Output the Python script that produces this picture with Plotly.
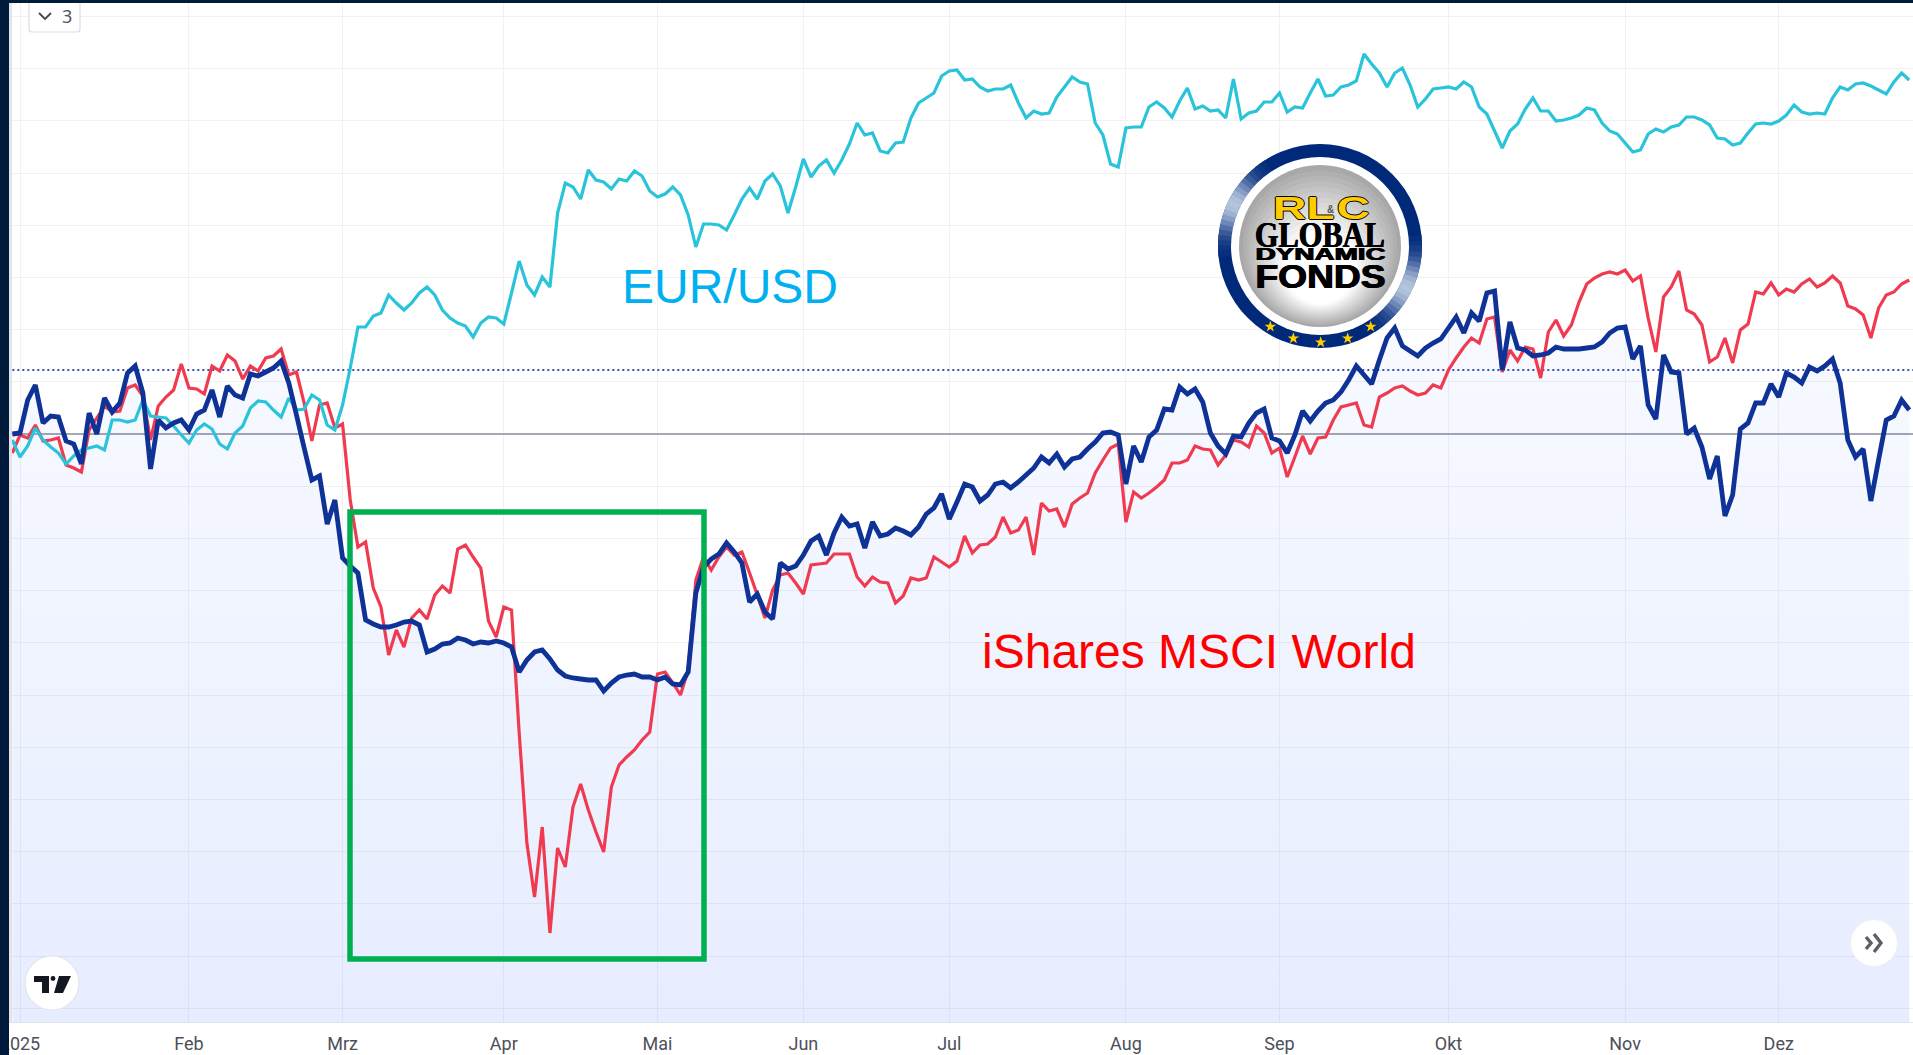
import math
import plotly.graph_objects as go

# Chart values: index level per trading bar, relative to the start level (0). First bar is index -1.
month_bars = [0, 22, 42, 63, 83, 102, 121, 144, 164, 186, 209, 229]
month_labels = ["2025", "Feb", "Mrz", "Apr", "Mai", "Jun", "Jul", "Aug", "Sep", "Okt", "Nov", "Dez"]

fund_values = [
    0, 1, 34, 49, 11, 18, 17, -7, -10, -30, 21, 0, 36, 22, 31, 61, 68, 41, -35, 14, 6, 11, 14, 4, 20, 24, 44, 17, 48, 39,
    36, 60, 58, 62, 66, 73, 51, 19, -14, -46, -42, -90, -66, -124, -132, -139,
    -186, -190, -193, -193, -191, -188, -187, -191, -218, -215, -210, -209, -204, -206, -210, -208, -209, -207, -209, -213,
    -238, -226, -218, -216, -225, -236, -242, -244, -245, -246, -246, -257, -249, -243, -241, -240, -243, -243, -246, -243,
    -250, -251, -238, -159, -133,
    -125, -120, -109, -118, -129, -168, -160, -178, -185, -129, -135, -132, -121, -107, -102, -121, -99, -83, -92, -90,
    -114, -88, -102, -100, -94, -97, -101, -93, -80, -74, -60, -85, -68, -50, -53, -67, -61, -50, -48, -54, -48, -41, -34,
    -23, -29, -20, -33, -25, -23, -15, -8, 1, 2, -1, -50, -12, -28, -3, 4, 25,
    24, 47, 40, 45, 32, 1, -12, -20, -2, -3, 11, 21, 25, -4, -7, -19, -1, 23, 13, 23, 31, 34, 42, 54, 68, 59, 50, 74, 96,
    106, 88, 83, 78, 86, 91, 95, 106, 117, 101, 121, 113, 141, 143,
    64, 112, 86, 84, 78, 79, 81, 87, 85, 85, 85, 86, 87, 92, 101, 106, 107, 75, 88, 29, 15, 79, 62, 61, 0, 6, -13, -45, -22,
    -82, -61, 5, 11, 31, 31, 50, 37, 61, 57, 51, 67, 63, 68, 75, 51, -6, -23, -15, -67, -26, 14, 18, 34, 24,
]

msci_values = [
    -19, -1, -4, 9, -7, -6, -4, -31, -34, -38, 4, 16, 28, 22, 23, 46, 49, 38, -6, 28, 37, 44, 70, 46, 45, 40, 68, 63, 79, 73,
    55, 68, 63, 76, 78, 85, 59, 62, 31, -7, 29, 31, 6, 10, -66, -113, -108,
    -154, -173, -221, -196, -213, -184, -176, -185, -161, -152, -159, -115, -111, -123, -134, -187, -203, -173, -176, -299,
    -409, -463, -393, -499, -414, -433, -373, -350, -376, -398, -418, -353, -331, -323, -316, -306, -298, -240, -238, -249,
    -261, -236, -146, -123,
    -136, -123, -113, -121, -118, -139, -161, -184, -156, -141, -139, -149, -160, -131, -130, -129, -120, -120, -120, -143,
    -152, -143, -148, -149, -169, -162, -144, -146, -144, -123, -128, -133, -127, -102, -119, -111, -110, -103, -83, -99,
    -96, -83, -121, -69, -77, -75, -93, -70, -64, -59, -39, -26, -14, -10, -88, -58, -64, -59, -53, -46,
    -29, -29, -26, -12, -15, -16, -31, -21, -6, -8, -13, 8, 1, -19, -14, -43, -23, -2, -20, -4, -3, 14, 27, 29, 31, 9, 7, 37,
    41, 46, 48, 43, 39, 41, 49, 46, 64, 76, 87, 96, 91, 115, 117,
    62, 84, 73, 87, 85, 56, 102, 114, 98, 109, 132, 150, 156, 160, 162, 160, 164, 153, 158, 116, 82, 137, 147, 163, 124, 120,
    109, 72, 77, 96, 71, 104, 110, 142, 140, 151, 139, 145, 142, 150, 155, 147, 151, 158, 151, 128, 125, 119, 96, 126, 139,
    142, 150, 154,
]

eurusd_values = [
    -6, -23, -12, 6, -6, -13, -19, -30, -22, -16, -14, -12, -16, 14, 14, 12, 14, 34, 18, 17, 16, 8, -1, -9, 4, 10, 5, -10, -15,
    1, 8, 26, 33, 32, 24, 17, 36, 24, 25, 39, 34, 9, 4, 29, 66,
    107, 107, 118, 121, 139, 131, 124, 131, 141, 147, 139, 124, 116, 111, 108, 97, 111, 117, 116, 110, 141, 173, 149, 139, 157,
    147, 221, 251, 247, 235, 264, 254, 252, 245, 255, 253, 263, 258, 243, 237, 240, 247, 239, 219, 187,
    210, 210, 209, 204, 219, 235, 246, 235, 253, 260, 248, 221, 247, 275, 257, 268, 274, 261, 274, 290, 311, 299, 301, 283, 281,
    291, 292, 316, 331, 336, 341, 358, 363, 364, 354, 355, 347, 343, 345, 345, 349, 331, 316, 323, 320, 321, 337, 347, 357, 352,
    350, 311, 299, 270, 267, 306, 307, 307, 327, 332, 326, 317, 333, 346, 325, 328, 323, 324, 316, 355, 315, 321, 323, 332, 332,
    341, 322, 327, 326, 341, 355,
    338, 339, 347, 349, 353, 380, 370, 361, 347, 361, 366, 349, 327, 335, 345, 346, 347, 345, 352, 347, 327, 320, 303, 286, 303,
    310, 325, 336, 323, 323, 313, 314, 316, 319, 326, 324, 311, 303, 300, 291, 282, 284, 300, 305, 302, 307, 309, 317, 317, 314,
    309, 296, 295, 289, 291, 301, 310, 311, 310, 313, 319, 329, 322, 320, 321, 320, 336, 347, 344, 350, 351, 348, 344, 340, 352,
    361, 354,
]

base_level = 0
previous_close = 64
grid_step = 52.2
y_bottom, y_top = -588, 434
x_left, x_right = -20 / 7.68, 1893 / 7.68

# Figure geometry
W, H, PLOT_H = 1913, 1055, 1022


def px(x):
    return x / W


def py(y):
    return 1 - y / PLOT_H


def path(points, close=False):
    s = "M " + " L ".join(f"{px(a):.5f},{py(b):.5f}" for a, b in points)
    return s + (" Z" if close else "")


def circle(cx, cy, r, fill, line=None, lw=0):
    return dict(type="circle", xref="paper", yref="paper", x0=px(cx - r), x1=px(cx + r), y0=py(cy + r), y1=py(cy - r),
                fillcolor=fill, line=dict(color=line or fill, width=lw), layer="above")


def rect(x0, y0, x1, y1, fill):
    return dict(type="rect", xref="paper", yref="paper", x0=px(x0), x1=px(x1), y0=py(y1), y1=py(y0),
                fillcolor=fill, line=dict(width=0), layer="above")


def poly(points, fill):
    return dict(type="path", xref="paper", yref="paper", path=path(points, True), fillcolor=fill,
                line=dict(width=0), layer="above")


def stroke(points, color, width):
    return dict(type="path", xref="paper", yref="paper", path=path(points), line=dict(color=color, width=width), layer="above")


def label(text, x, y, size, color, family="Liberation Sans", bold=False, shadow=None):
    font = dict(size=size, color=color, family=family, weight=700 if bold else 400)
    if shadow:
        font["shadow"] = shadow
    return dict(text=text, xref="paper", yref="paper", x=px(x), y=py(y), xanchor="center", yanchor="middle",
                showarrow=False, font=font)


bars = list(range(-1, len(fund_values) - 1))
fig = go.Figure()
floor = [y_bottom] * len(bars)
fig.add_trace(go.Scatter(x=bars, y=floor, mode="lines", line=dict(width=0), hoverinfo="skip"))
fig.add_trace(go.Scatter(
    x=bars, y=fund_values, mode="lines", line=dict(width=0), fill="tonexty", hoverinfo="skip",
    fillgradient=dict(type="vertical", start=143, stop=y_bottom,
                      colorscale=[[0, "rgba(41,98,255,0.03)"], [1, "rgba(41,98,255,0.115)"]])))
fig.add_trace(go.Scatter(x=list(range(-1, len(msci_values) - 1)), y=msci_values, mode="lines", name="iShares MSCI World",
                         line=dict(color="#f03a50", width=3.2, simplify=False)))
fig.add_trace(go.Scatter(x=list(range(-1, len(eurusd_values) - 1)), y=eurusd_values, mode="lines", name="EUR/USD",
                         line=dict(color="#29c3da", width=3.2, simplify=False)))
fig.add_trace(go.Scatter(x=bars, y=fund_values, mode="lines", name="RLC Global Dynamic Fonds",
                         line=dict(color="#0e3296", width=4.8, simplify=False)))

shapes = [
    dict(type="line", xref="x", yref="y", x0=-1.0, x1=x_right, y0=base_level, y1=base_level,
         line=dict(color="#a6a6b4", width=1.8), layer="between"),
    dict(type="line", xref="x", yref="y", x0=-1.0, x1=x_right, y0=previous_close, y1=previous_close,
         line=dict(color="#3b50b4", width=1.8, dash="2px 3px"), layer="between"),
    # green highlight box
    dict(type="rect", xref="x", yref="y", x0=(350 - 20) / 7.68, x1=(704 - 20) / 7.68, y0=434 - 959, y1=434 - 512,
         line=dict(color="#00b050", width=5.5), layer="above"),
    # left and top frame of the screenshot
    rect(9, 0, 12, 1022, "#e4e4e8"),
    rect(0, 0, 9, H, "#001a3c"),
    rect(0, 0, W, 3, "#001a3c"),
]

# interval widget
shapes.append(dict(type="path", xref="paper", yref="paper",
                   path=f"M {px(29):.5f},{py(3):.5f} L {px(29):.5f},{py(29):.5f} Q {px(29):.5f},{py(32):.5f} {px(32):.5f},{py(32):.5f} "
                        f"L {px(77):.5f},{py(32):.5f} Q {px(80):.5f},{py(32):.5f} {px(80):.5f},{py(29):.5f} L {px(80):.5f},{py(3):.5f}",
                   fillcolor="#ffffff", line=dict(color="#dcdde2", width=1.2), layer="above"))
shapes.append(stroke([(39, 13), (45, 19), (51, 13)], "#444650", 1.8))

# TradingView badge
shapes.append(circle(52, 983, 27, "#ffffff", "#e3e4ea", 1.2))
shapes.append(poly([(34, 976), (49, 976), (49, 993), (42, 993), (42, 982), (34, 982)], "#131722"))
shapes.append(circle(53, 978.5, 2.4, "#131722"))
shapes.append(poly([(59, 976), (71, 976), (63, 993), (54, 993)], "#131722"))

# scroll button
shapes.append(circle(1874, 943, 24, "#eef0f6"))
shapes.append(circle(1874, 943, 23, "#ffffff"))
shapes.append(stroke([(1866, 937), (1871, 943), (1866, 949)], "#5d606b", 3.4))
shapes.append(stroke([(1874, 934), (1881, 943), (1874, 952)], "#5d606b", 3.4))

# Fund badge
CX, CY = 1320, 246
shapes.append(circle(CX, CY, 102, "#00297a"))
for deg in range(0, 360, 3):
    d1 = min(abs((deg - 153 + 180) % 360 - 180), abs((deg + 27 + 180) % 360 - 180))
    k = math.exp(-(d1 / 17) ** 2)
    if k < 0.03:
        continue
    r_, g_, b_ = (int(a + (c - a) * k * 0.95) for a, c in ((0, 190), (41, 205), (122, 226)))
    arc = [(CX + 95.5 * math.cos(math.radians(deg + t)), CY - 95.5 * math.sin(math.radians(deg + t))) for t in (-0.3, 1.5, 3.3)]
    shapes.append(stroke(arc, f"rgb({r_},{g_},{b_})", 13))
shapes.append(circle(CX, CY, 89, "#ffffff"))
for n in range(22):
    t = n / 21
    grey = int(168 + 87 * min(1, t * 1.7))
    shapes.append(circle(CX, CY + 38 * t, 81 * (1 - 0.93 * t), f"rgb({grey},{grey},{grey})"))
for sx, sy in [(271, 620), (340, 655), (422, 667), (503, 655), (572, 620)]:
    c_x, c_y = 1180 + sx / 3, 120 + sy / 3
    star = []
    for j in range(10):
        rad = 6 if j % 2 == 0 else 2.4
        ang = math.radians(90 + 36 * j)
        star.append((c_x + rad * math.cos(ang), c_y - rad * math.sin(ang)))
    shapes.append(poly(star, "#ffcc00"))

outline = "0.7px 0 0 #000, -0.7px 0 0 #000, 0 0.7px 0 #000, 0 -0.7px 0 #000"
annotations = [
    label("EUR/USD", 730, 286, 48, "#00b0f0"),
    label("iShares MSCI World", 1199, 651, 48, "#ff0000"),
    label("3", 67, 16, 18, "#50535e", family="Noto Sans"),
    label("RL", 1303, 208, 31, "#ffcc00", bold=True, shadow=outline),
    label("&", 1330, 210, 10, "#555555", bold=True),
    label("C", 1353, 208, 31, "#ffcc00", bold=True, shadow=outline),
    label("GLOBAL", 1320, 235, 35, "#000000", family="Liberation Serif", bold=True, shadow="0.5px 0 0 #000, -0.5px 0 0 #000"),
    label("DYNAMIC", 1320, 254, 17, "#000000", bold=True, shadow="0.5px 0 0 #000, -0.5px 0 0 #000"),
    label("FONDS", 1320, 276, 34, "#000000", bold=True, shadow="0.6px 0 0 #000, -0.6px 0 0 #000"),
]

fig.update_layout(
    width=W, height=H, autosize=False, showlegend=False, hovermode=False,
    paper_bgcolor="#ffffff", plot_bgcolor="#ffffff",
    margin=dict(l=0, r=0, t=0, b=H - PLOT_H, pad=0, autoexpand=False),
    shapes=shapes, annotations=annotations,
    xaxis=dict(range=[x_left, x_right], tickmode="array", tickvals=month_bars, ticktext=month_labels, automargin=False,
               showgrid=True, gridcolor="#f1f1f4", gridwidth=1.2, zeroline=False, showline=True, linecolor="#e2e3e8", linewidth=1,
               ticks="outside", ticklen=5, tickcolor="rgba(0,0,0,0)", ticklabeloverflow="allow",
               tickfont=dict(family="Roboto", size=18, color="#4c4f5a")),
    yaxis=dict(range=[y_bottom, y_top], tickmode="array", automargin=False,
               tickvals=[k * grid_step for k in range(-11, 9) if k != 0],
               showticklabels=False, showgrid=True, gridcolor="#f1f1f4", gridwidth=1.2, zeroline=False, ticks=""),
)

stretch = """
document.body.style.margin = '0';
document.body.style.overflow = 'hidden';
var widths = {'RL': 62, 'C': 33, 'GLOBAL': 130, 'DYNAMIC': 130, 'FONDS': 130};
document.querySelectorAll('.annotation-text').forEach(function (t) {
  var w = widths[t.textContent];
  if (w) { t.setAttribute('textLength', w); t.setAttribute('lengthAdjust', 'spacingAndGlyphs'); }
});
"""
fig.write_html("out.html", config=dict(displayModeBar=False), post_script=stretch)
print(len(fund_values), len(msci_values), len(eurusd_values))
